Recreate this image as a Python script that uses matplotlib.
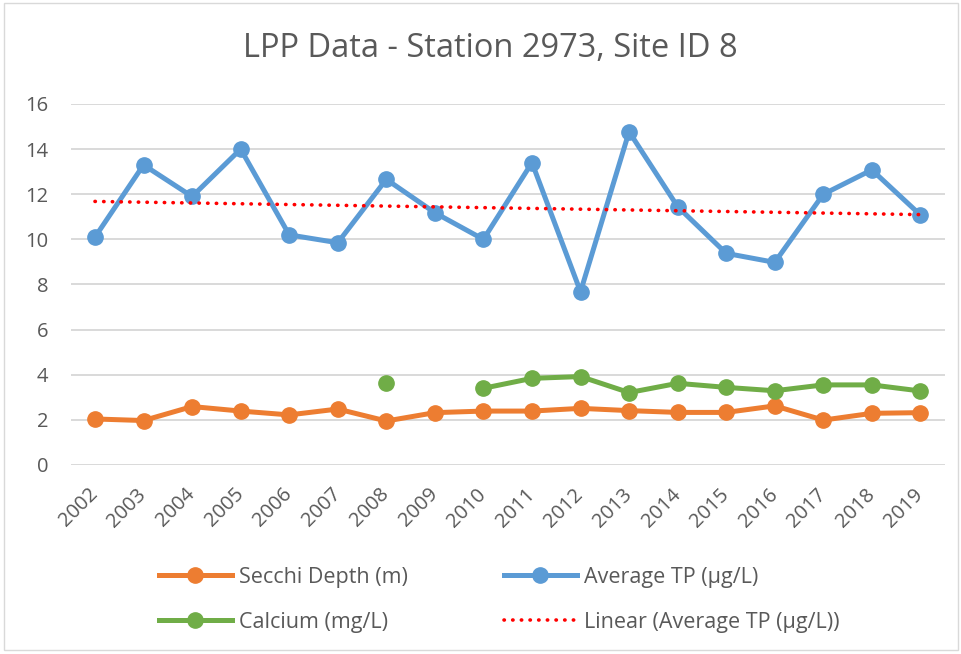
import numpy as np
import matplotlib
matplotlib.use("Agg")
import matplotlib.pyplot as plt
from matplotlib.patches import Rectangle

plt.rcParams['font.family'] = ['Open Sans', 'DejaVu Sans']

years = [str(y) for y in range(2002, 2020)]

secchi = [2.04, 1.97, 2.59, 2.39, 2.22, 2.48, 1.95, 2.32, 2.39,
          2.39, 2.51, 2.41, 2.33, 2.33, 2.62, 1.99, 2.29, 2.32]
avg_tp = [10.1, 13.3, 11.9, 14.0, 10.2, 9.85, 12.66, 11.18, 10.0,
          13.4, 7.68, 14.77, 11.45, 9.38, 8.98, 12.0, 13.08, 11.08]
calcium = [np.nan, np.nan, np.nan, np.nan, np.nan, np.nan, 3.62, np.nan, 3.40,
           3.84, 3.92, 3.21, 3.62, 3.44, 3.29, 3.55, 3.55, 3.28]

ORANGE = "#ED7D31"
BLUE = "#5B9BD5"
GREEN = "#70AD47"
TEXT = "#595959"

fig = plt.figure(figsize=(9.62, 6.54), dpi=100)
ax = fig.add_axes([0.0735, 0.289, 0.9085, 0.552])

x = np.arange(len(years))
lw = 3.6
ms = 11

l_secchi, = ax.plot(x, secchi, color=ORANGE, lw=lw, marker='o', ms=ms,
                    label="Secchi Depth (m)", zorder=3)
l_tp, = ax.plot(x, avg_tp, color=BLUE, lw=lw, marker='o', ms=ms,
                label="Average TP (µg/L)", zorder=3)
l_ca, = ax.plot(x, calcium, color=GREEN, lw=lw, marker='o', ms=ms,
                label="Calcium (mg/L)", zorder=3)

# linear trendline of Average TP
coef = np.polyfit(x, avg_tp, 1)
l_lin, = ax.plot(x, np.polyval(coef, x), color="red", lw=2.6,
                 linestyle=(0, (0.1, 2.3)), dash_capstyle='round',
                 label="Linear (Average TP (µg/L))", zorder=4)

ax.set_xlim(-0.5, len(years) - 0.5)
ax.set_ylim(0, 16)
ax.set_yticks(range(0, 17, 2))
ax.set_xticks(x)
ax.set_xticklabels(years, rotation=45, ha='right', va='center',
                   rotation_mode='anchor')
ax.tick_params(axis='both', length=0, colors=TEXT, labelsize=14.5)
ax.tick_params(axis='y', pad=16)
ax.tick_params(axis='x', pad=19)
ax.grid(True, axis='y', color="#D9D9D9", lw=1.4)
ax.set_axisbelow(True)
for s in ax.spines.values():
    s.set_visible(False)

fig.text(0.51, 0.926, "LPP Data - Station 2973, Site ID 8", ha='center',
         va='center', fontsize=23.5, color=TEXT)

fig.legend(handles=[l_secchi, l_ca, l_tp, l_lin], ncol=2,
           loc='center', bbox_to_anchor=(0.519, 0.083), frameon=False,
           fontsize=15.5, labelcolor=TEXT, handlelength=3.35,
           columnspacing=4.5, labelspacing=1.1, handletextpad=0.33)

fig.patches.append(Rectangle((0.004, 0.006), 0.992, 0.99, transform=fig.transFigure,
                             fill=False, edgecolor="#D9D9D9", lw=1))

fig.savefig("out.png", dpi=100)
